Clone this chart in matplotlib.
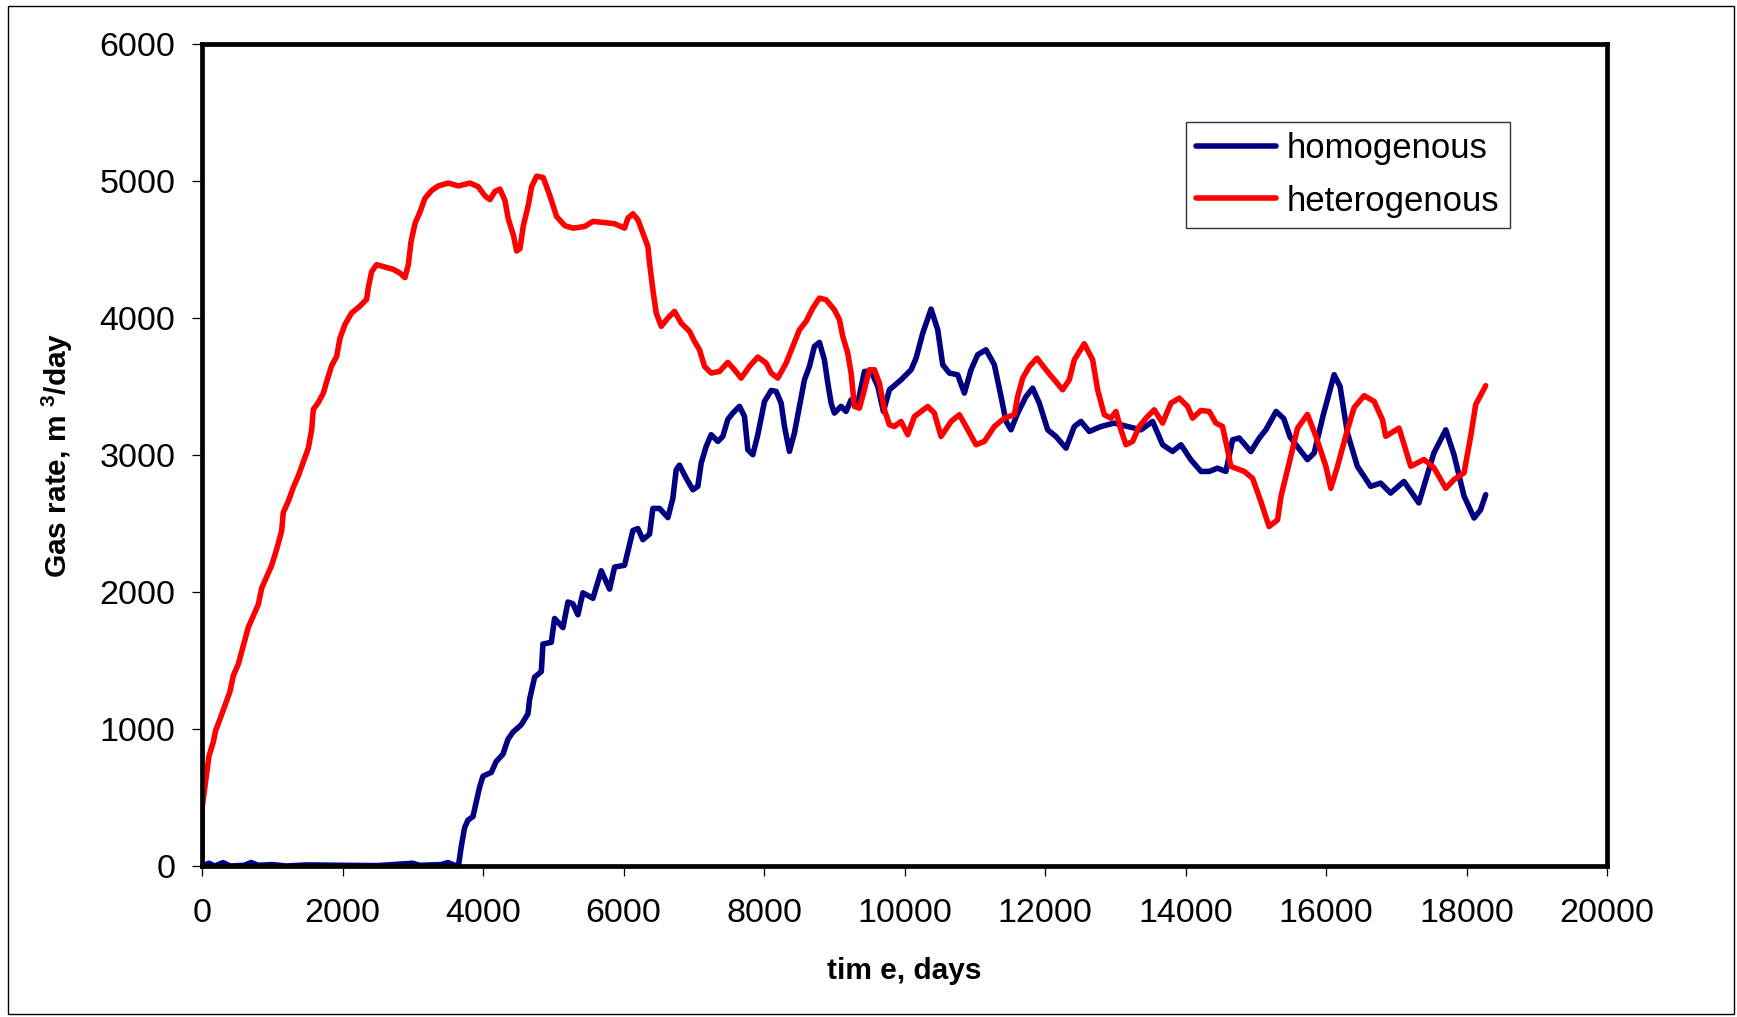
import matplotlib
matplotlib.use("Agg")
import matplotlib.pyplot as plt
from matplotlib.patches import Rectangle

plt.rcParams['font.family'] = ['Liberation Sans', 'DejaVu Sans']
plt.rcParams['mathtext.fontset'] = 'custom'
plt.rcParams['mathtext.rm'] = 'Liberation Sans'
plt.rcParams['mathtext.bf'] = 'Liberation Sans:bold'

# ---------------- data ----------------
homo_days = [0, 100, 180, 300, 400, 600, 700, 800, 1000, 1200, 1500, 2000, 2500, 3000, 3100,
             3400, 3500, 3600, 3650,
             3692, 3739, 3786, 3857, 3905, 3952, 4000, 4118, 4189, 4284, 4355, 4426, 4545,
             4640, 4664, 4735, 4830, 4853, 4972, 5019, 5138, 5209, 5280, 5351, 5422, 5565,
             5683, 5802, 5873, 6015, 6134, 6205, 6276, 6371, 6418, 6513, 6632, 6703, 6750,
             6797, 6892, 6987, 7058, 7106, 7177, 7248, 7343, 7414, 7485, 7556, 7651, 7722,
             7770, 7841, 7912, 8007, 8102, 8173, 8244, 8291, 8362, 8433, 8505, 8576, 8647,
             8718, 8789, 8860, 8908, 8955, 9002, 9097, 9168, 9240, 9335, 9430, 9525, 9620,
             9700, 9785, 9951, 10094, 10165, 10260, 10378, 10473, 10544, 10639, 10757, 10852,
             10947, 11042, 11160, 11279, 11374, 11445, 11516, 11611, 11730, 11824, 11919,
             12038, 12156, 12299, 12417, 12512, 12630, 12797, 12986, 13176, 13366, 13532,
             13674, 13816, 13935, 14077, 14220, 14338, 14456, 14575, 14670, 14765, 14930,
             15049, 15144, 15290, 15400, 15490, 15736, 15831, 15960, 16116, 16200, 16305,
             16447, 16636, 16778, 16920, 17109, 17322, 17535, 17705, 17823, 17965, 18108,
             18200, 18273]
homo_rate = [0, 20, 0, 25, 0, 5, 25, 5, 10, 0, 8, 5, 3, 20, 5,
             10, 25, 5, 0,
             147, 281, 335, 361, 468, 576, 656, 683, 763, 816, 924, 977, 1031,
             1111, 1218, 1379, 1419, 1620, 1633, 1807, 1740, 1927, 1914, 1834, 1994, 1954,
             2155, 2021, 2182, 2195, 2449, 2463, 2382, 2423, 2610, 2610, 2543, 2685, 2892,
             2926, 2831, 2746, 2771, 2941, 3063, 3148, 3099, 3136, 3260, 3306, 3355, 3282,
             3038, 3002, 3148, 3391, 3471, 3464, 3379, 3209, 3026, 3160, 3355, 3549, 3647,
             3793, 3822, 3695, 3525, 3379, 3306, 3355, 3318, 3403, 3379, 3610, 3610, 3500,
             3318, 3476, 3549, 3622, 3707, 3890, 4065, 3914, 3659, 3598, 3586, 3452,
             3622, 3732, 3768, 3659, 3427, 3245, 3184, 3306, 3427, 3488, 3379,
             3184, 3135, 3050, 3208, 3245, 3172, 3208, 3233, 3208, 3184, 3245,
             3075, 3026, 3075, 2965, 2880, 2880, 2904, 2880, 3111, 3124, 3025,
             3123, 3184, 3318, 3265, 3130, 2966, 3014, 3290, 3586, 3500, 3160,
             2917, 2771, 2795, 2722, 2807, 2650, 3014, 3184, 3000, 2700, 2540,
             2600, 2710]

hetero_days = [0, 4, 66, 100, 161, 194, 256, 327, 398, 446, 517, 588, 659, 730, 802, 849, 920,
               991, 1063, 1134, 1157, 1229, 1300, 1371, 1442, 1513, 1561, 1585, 1656, 1727,
               1774, 1845, 1917, 1964, 2035, 2130, 2249, 2344, 2367, 2415, 2486, 2605, 2723,
               2818, 2889, 2937, 2975, 3032, 3103, 3174, 3269, 3364, 3506, 3649, 3815, 3933,
               4028, 4099, 4170, 4242, 4313, 4360, 4432, 4479, 4526, 4574, 4645, 4692, 4763,
               4858, 4953, 5048, 5167, 5286, 5446, 5565, 5707, 5873, 6015, 6063, 6134, 6205,
               6276, 6347, 6371, 6418, 6466, 6537, 6632, 6726, 6821, 6940, 7011, 7082, 7153,
               7248, 7366, 7485, 7580, 7675, 7793, 7912, 8030, 8102, 8196, 8315, 8410, 8505,
               8599, 8694, 8789, 8884, 9002, 9074, 9121, 9192, 9240, 9287, 9358, 9429, 9500,
               9572, 9643, 9714, 9785, 9856, 9951, 10046, 10141, 10331, 10425, 10520, 10663,
               10781, 10876, 11018, 11137, 11279, 11421, 11564, 11611, 11682, 11777, 11886,
               12014, 12133, 12251, 12346, 12417, 12559, 12678, 12749, 12844, 12939, 13010,
               13081, 13152, 13247, 13342, 13437, 13555, 13674, 13793, 13911, 14030, 14101,
               14220, 14338, 14433, 14527, 14599, 14646, 14836, 14955, 15073, 15190, 15310,
               15360, 15476, 15595, 15736, 15856, 15998, 16069, 16164, 16305, 16400, 16543,
               16685, 16803, 16850, 17040, 17206, 17395, 17535, 17705, 17823, 17965, 18060,
               18131, 18273]
hetero_rate = [0, 435, 670, 804, 905, 988, 1072, 1173, 1273, 1390, 1474, 1608, 1742, 1826, 1910,
               2027, 2111, 2194, 2312, 2446, 2580, 2663, 2764, 2848, 2948, 3049, 3183, 3333,
               3384, 3451, 3534, 3652, 3719, 3853, 3953, 4037, 4087, 4137, 4221, 4338, 4389,
               4372, 4355, 4328, 4295, 4389, 4556, 4690, 4774, 4874, 4931, 4964, 4985, 4964,
               4985, 4958, 4891, 4864, 4924, 4941, 4857, 4723, 4606, 4489, 4506, 4673, 4824,
               4958, 5035, 5025, 4891, 4740, 4673, 4656, 4668, 4705, 4698, 4688, 4656, 4729,
               4761, 4717, 4620, 4522, 4401, 4206, 4036, 3939, 4000, 4048, 3963, 3902, 3829,
               3768, 3647, 3598, 3610, 3676, 3622, 3561, 3647, 3715, 3671, 3598, 3561, 3671,
               3793, 3914, 3975, 4072, 4145, 4133, 4060, 3987, 3866, 3744, 3598, 3355, 3342,
               3476, 3622, 3622, 3525, 3330, 3221, 3208, 3245, 3148, 3281, 3354, 3306, 3135,
               3245, 3294, 3208, 3075, 3099, 3208, 3269, 3294, 3427, 3561, 3646, 3707, 3622,
               3549, 3476, 3549, 3695, 3812, 3695, 3476, 3294, 3269, 3318, 3184, 3075, 3099,
               3208, 3269, 3330, 3233, 3379, 3415, 3354, 3269, 3325, 3318, 3233, 3208, 3038,
               2917, 2880, 2830, 2660, 2478, 2526, 2700, 2942, 3196, 3296, 3137, 2918, 2757,
               2918, 3184, 3346, 3433, 3391, 3258, 3137, 3196, 2918, 2967, 2907, 2757, 2821,
               2870, 3137, 3368, 3506]

x_ticks = list(range(0, 20001, 2000))
y_ticks = list(range(0, 6001, 1000))
series_labels = ["homogenous", "heterogenous"]
series_colors = ["#000080", "#FF0000"]

# ---------------- figure ----------------
W, H = 1737, 1017
fig = plt.figure(figsize=(W / 100, H / 100), dpi=100)
fig.patch.set_facecolor("white")

# outer chart-area border
fig.patches.append(Rectangle((8 / W, 3 / H), (1734 - 8) / W, (1011 - 3) / H,
                             transform=fig.transFigure, fill=False,
                             edgecolor="black", linewidth=1.0))

left, right, top, bottom = 202, 1607, 44, 866
ax = fig.add_axes([left / W, 1 - bottom / H, (right - left) / W, (bottom - top) / H])

LW = 4.0
ax.plot(homo_days, homo_rate, color=series_colors[0], lw=LW,
        solid_joinstyle="round", solid_capstyle="round", label=series_labels[0])
ax.plot(hetero_days, hetero_rate, color=series_colors[1], lw=LW,
        solid_joinstyle="round", solid_capstyle="round", label=series_labels[1])

ax.set_xlim(0, 20000)
ax.set_ylim(0, 6000)
ax.set_xticks(x_ticks)
ax.set_yticks(y_ticks)
ax.set_xticklabels([str(t) for t in x_ticks])
ax.set_yticklabels([str(t) for t in y_ticks])

for s in ax.spines.values():
    s.set_linewidth(3.4)
    s.set_color("black")

ax.tick_params(axis="both", direction="out", length=7, width=0.9, labelsize=24.5,
               colors="black")
ax.tick_params(axis="y", pad=12)
ax.tick_params(axis="x", pad=16)

ax.set_xlabel("tim e, days", fontsize=21.5, fontweight="bold", labelpad=20)
ax.set_ylabel(r"Gas rate, m $^{\mathbf{3}}$/day", fontsize=21.5, fontweight="bold",
              labelpad=18)

leg = ax.legend(loc="upper left", bbox_to_anchor=(1186 / W, 1 - 122 / H),
                bbox_transform=fig.transFigure, borderaxespad=0,
                fontsize=25, frameon=True, fancybox=False, shadow=False,
                handlelength=2.3, handletextpad=0.3, borderpad=0.3,
                labelspacing=0.55)
leg.get_frame().set_edgecolor("black")
leg.get_frame().set_linewidth(1.0)
for line in leg.get_lines():
    line.set_linewidth(LW)

fig.savefig("out.png", dpi=100, facecolor="white")
